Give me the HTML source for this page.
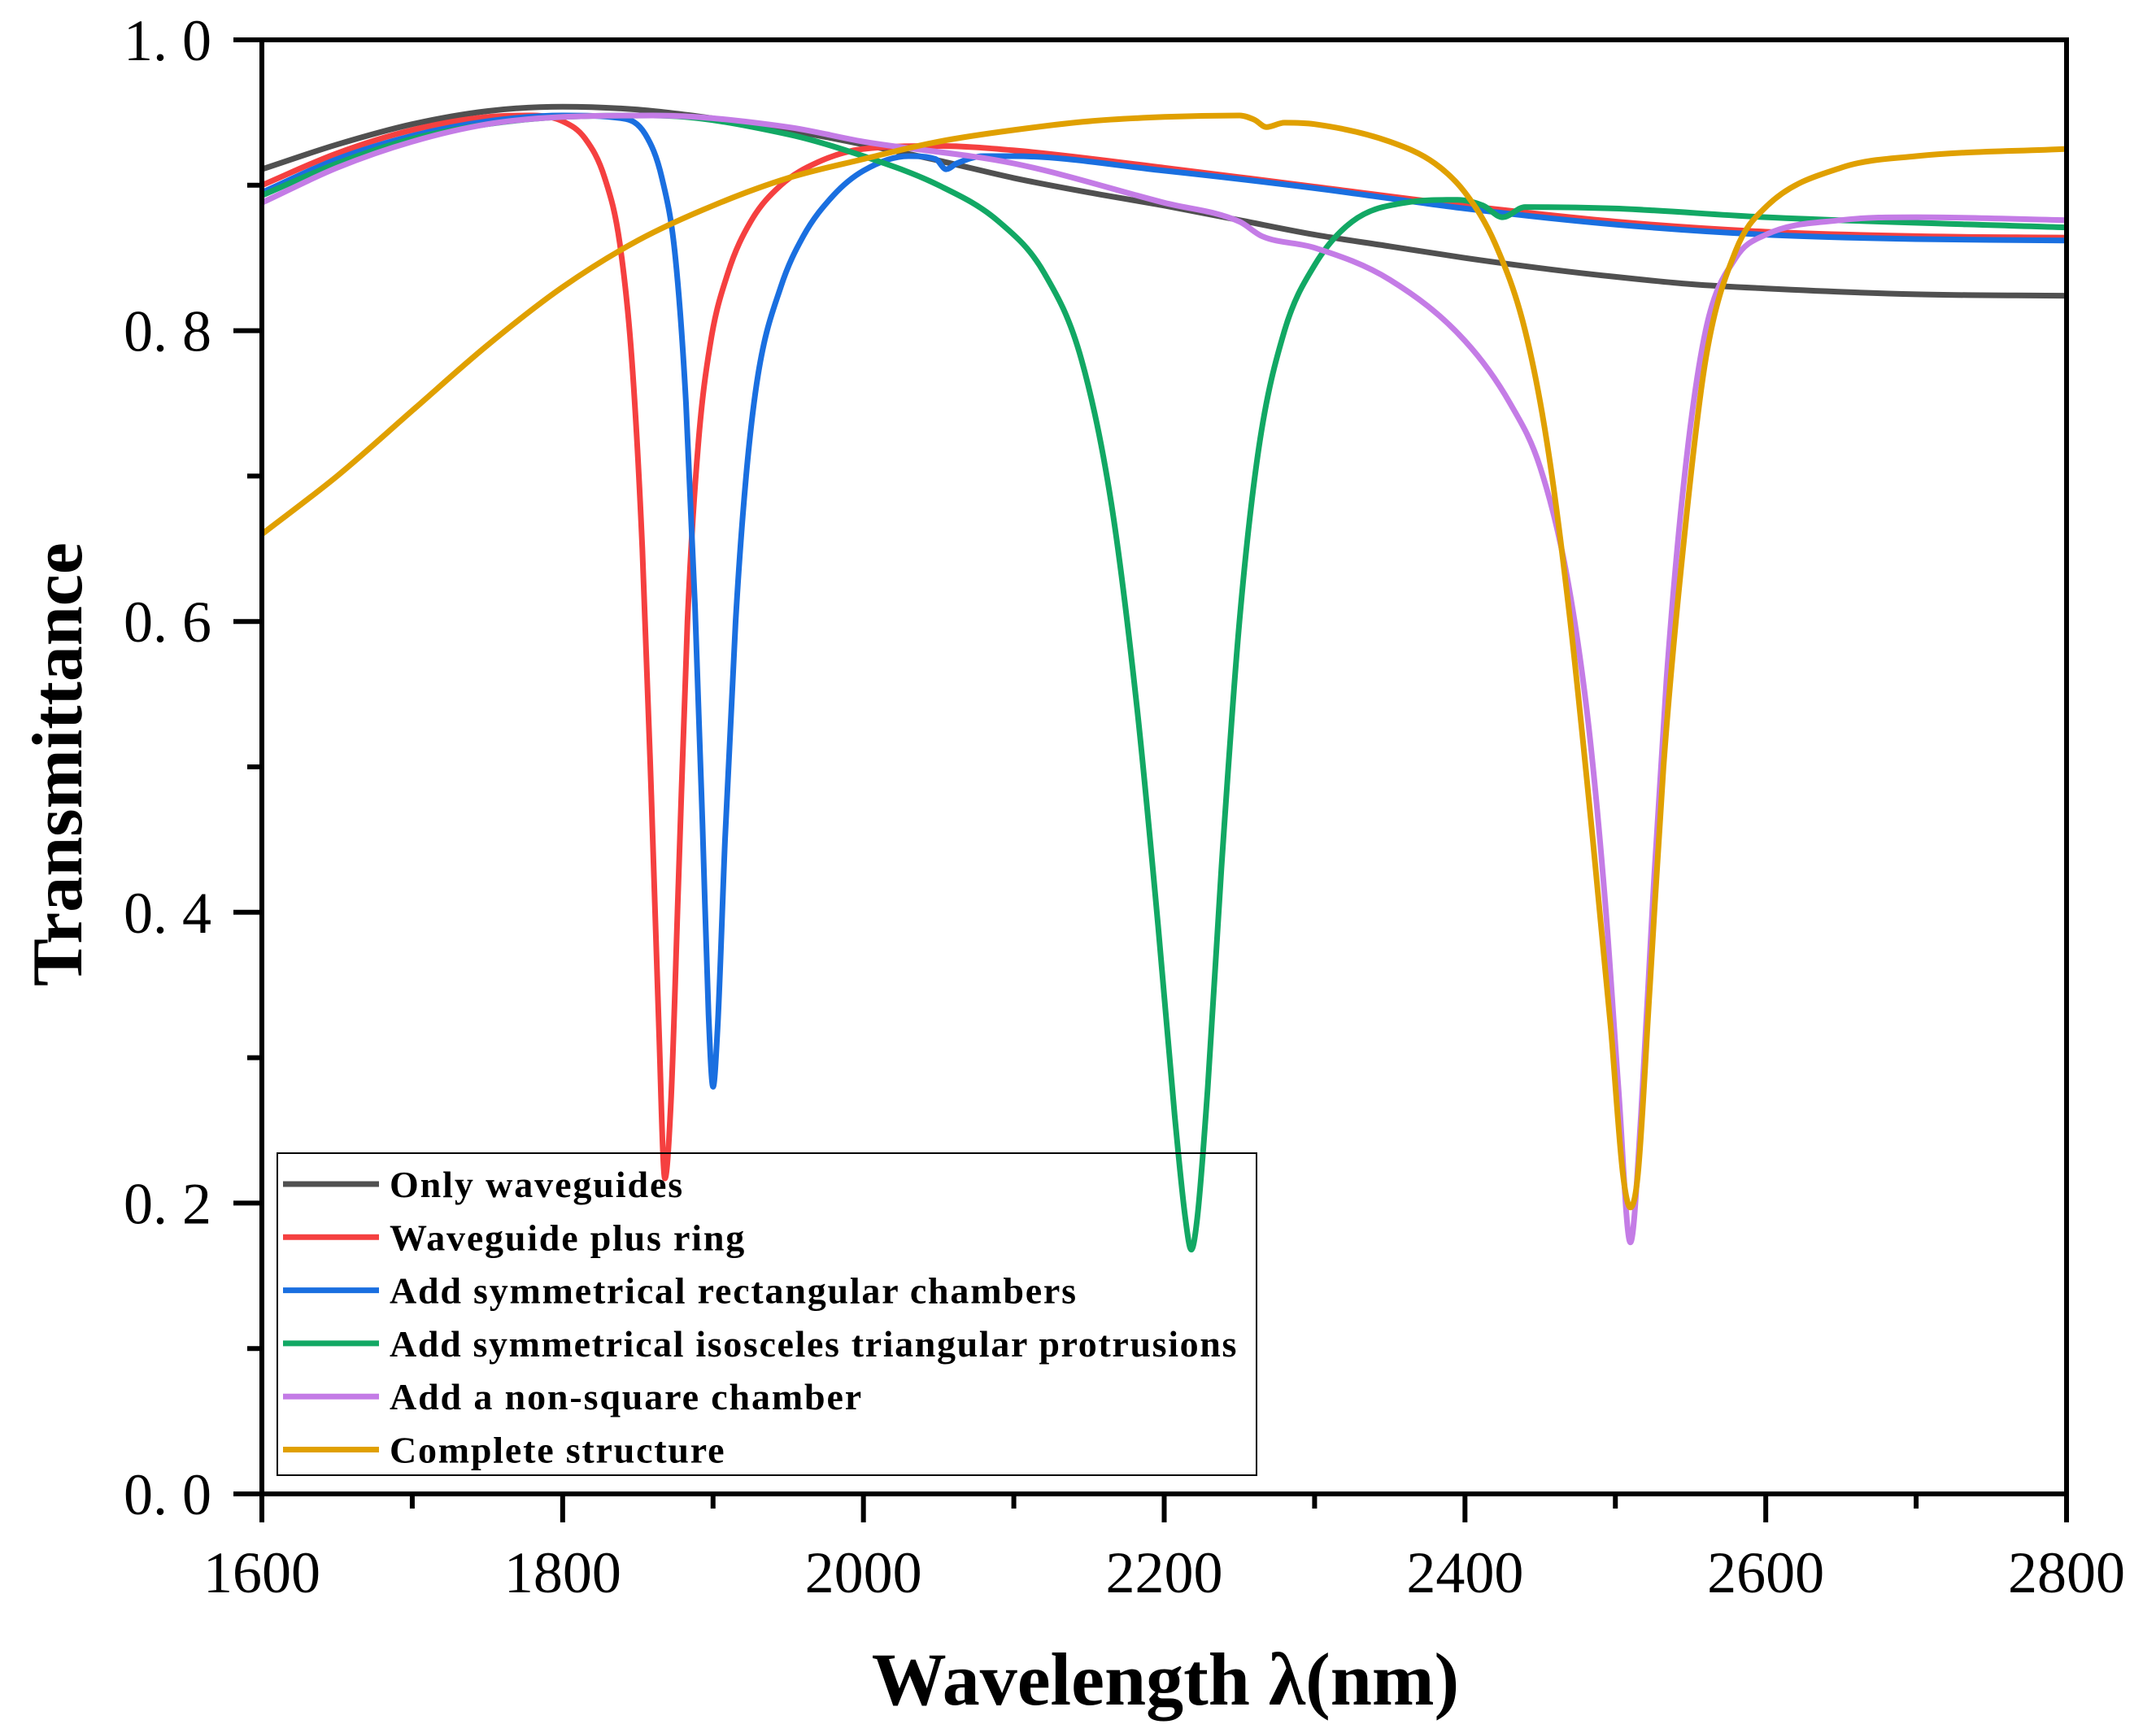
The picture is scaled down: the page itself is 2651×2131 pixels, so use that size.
<!DOCTYPE html>
<html><head><meta charset="utf-8"><style>
body{margin:0;background:#fff}
svg{display:block}
text{font-family:"Liberation Serif",serif;fill:#000}
</style></head><body>
<svg id="chart" width="2651" height="2131" viewBox="0 0 2651 2131" xmlns="http://www.w3.org/2000/svg">
<g id="marks"></g>
<g id="axes"></g>
<g id="legend"></g>
<text transform="translate(100,940) rotate(-90)" text-anchor="middle" font-size="88" font-weight="bold">Transmittance</text>
<text x="1433" y="2096" text-anchor="middle" font-size="92" font-weight="bold">Wavelength λ(nm)</text>
</svg>
<script>
const xTicks=[1600,1800,2000,2200,2400,2600,2800];
const yTicks=[0,0.2,0.4,0.6,0.8,1.0];
const yTickLabels=["0. 0","0. 2","0. 4","0. 6","0. 8","1. 0"];
const seriesNames=["Only waveguides","Waveguide plus ring","Add symmetrical rectangular chambers","Add symmetrical isosceles triangular protrusions","Add a non-square chamber","Complete structure"];
const seriesColors=["#505050","#f54040","#1a6fe0","#12a864","#c47ce6","#e0a000"];
const grayWl=[1600,1650,1700,1750,1800,1850,1900,1950,2000,2050,2100,2150,2200,2250,2300,2350,2400,2450,2500,2550,2600,2700,2800];
const grayT=[.911,.928,.942,.951,.954,.952,.946,.938,.928,.917,.905,.895,.886,.876,.866,.858,.850,.843,.837,.832,.829,.825,.824];
const redWl=[1600,1650,1700,1750,1780,1800,1815,1828,1838,1846,1853,1859,1864,1868,1872,1877,1883,1890,1898,1910,1925,1945,1970,2000,2050,2100,2200,2300,2400,2500,2600,2700,2800];
const redT=[.900,.922,.938,.947,.948,.944,.932,.905,.86,.78,.65,.48,.32,.217,.27,.42,.6,.72,.79,.84,.875,.9,.916,.925,.927,.924,.912,.899,.886,.875,.868,.865,.864];
const blueWl=[1600,1650,1700,1750,1800,1840,1855,1866,1875,1882,1888,1893,1897,1900,1903,1908,1915,1922,1930,1945,1960,1980,2000,2030,2048,2055,2062,2080,2100,2200,2300,2400,2500,2600,2700,2800];
const blueT=[.895,.918,.934,.944,.948,.946,.935,.905,.85,.75,.61,.46,.33,.28,.32,.45,.6,.7,.77,.83,.865,.893,.91,.92,.918,.911,.915,.92,.92,.91,.898,.884,.873,.866,.863,.862];
const greenWl=[1600,1650,1700,1750,1800,1860,1950,2000,2050,2090,2120,2145,2165,2182,2196,2207,2214,2218,2222,2229,2238,2250,2263,2280,2300,2325,2360,2395,2412,2425,2440,2500,2600,2800];
const greenT=[.893,.915,.932,.942,.947,.948,.935,.92,.9,.875,.84,.78,.68,.54,.39,.26,.19,.168,.19,.28,.43,.6,.72,.8,.845,.875,.888,.89,.886,.878,.885,.884,.878,.871];
const purpleWl=[1600,1650,1700,1750,1800,1860,1950,2000,2100,2200,2250,2265,2300,2350,2400,2430,2450,2468,2482,2493,2502,2510,2517,2525,2534,2546,2560,2580,2600,2650,2700,2800];
const purpleT=[.888,.912,.93,.942,.947,.948,.94,.93,.915,.888,.875,.865,.857,.835,.793,.75,.706,.63,.53,.41,.28,.173,.26,.41,.56,.70,.80,.85,.866,.876,.878,.876];
const orangeWl=[1600,1650,1700,1750,1800,1850,1900,1950,2000,2050,2100,2150,2200,2250,2260,2268,2280,2300,2350,2380,2400,2420,2440,2455,2470,2485,2497,2505,2510,2515,2523,2532,2545,2560,2580,2600,2650,2700,2800];
const orangeT=[.66,.70,.745,.79,.83,.862,.886,.905,.918,.93,.938,.944,.947,.948,.945,.94,.943,.942,.93,.915,.895,.86,.80,.72,.6,.45,.32,.22,.197,.22,.35,.5,.65,.78,.855,.885,.912,.92,.925];
const allWl=[grayWl,redWl,blueWl,greenWl,purpleWl,orangeWl];
const allT=[grayT,redT,blueT,greenT,purpleT,orangeT];

const L=322,R=2541,T=49,B=1837;
const xS=v=>L+(v-1600)/(2800-1600)*(R-L);
const yS=v=>B-(v-0)/(1-0)*(B-T);
const NS="http://www.w3.org/2000/svg";
function mk(tag,attrs,parent){const e=document.createElementNS(NS,tag);for(const k in attrs)e.setAttribute(k,attrs[k]);parent.appendChild(e);return e;}

function monoPath(xs,ys){
  const n=xs.length;const d=[],m=[];
  for(let i=0;i<n-1;i++)d.push((ys[i+1]-ys[i])/(xs[i+1]-xs[i]));
  m[0]=d[0];m[n-1]=d[n-2];
  for(let i=1;i<n-1;i++){m[i]=(d[i-1]*d[i]<=0)?0:(d[i-1]+d[i])/2;}
  for(let i=0;i<n-1;i++){if(d[i]===0){m[i]=0;m[i+1]=0;continue;}const a=m[i]/d[i],b=m[i+1]/d[i],s=a*a+b*b;if(s>9){const t=3/Math.sqrt(s);m[i]=t*a*d[i];m[i+1]=t*b*d[i];}}
  let p="M"+xs[0].toFixed(1)+","+ys[0].toFixed(1);
  for(let i=0;i<n-1;i++){const h=(xs[i+1]-xs[i])/3;
    p+=" C"+(xs[i]+h).toFixed(1)+","+(ys[i]+m[i]*h).toFixed(1)+" "+(xs[i+1]-h).toFixed(1)+","+(ys[i+1]-m[i+1]*h).toFixed(1)+" "+xs[i+1].toFixed(1)+","+ys[i+1].toFixed(1);}
  return p;
}
const marks=document.getElementById('marks');
const slugs=["only-waveguides","waveguide-plus-ring","rectangular-chambers","triangular-protrusions","non-square-chamber","complete-structure"];
for(let s=0;s<6;s++){
  const path=mk('path',{d:monoPath(allWl[s].map(xS),allT[s].map(yS)),fill:"none",stroke:seriesColors[s],"stroke-width":7,"stroke-linejoin":"round"},marks);
  
  
}
const axes=document.getElementById('axes');
const frame=mk('rect',{x:L,y:T,width:R-L,height:B-T,fill:"none",stroke:"#000","stroke-width":6},axes);


for(let v=1600;v<=2800;v+=100){
  const major=(v%200===0);
  const t=mk('line',{x1:xS(v),x2:xS(v),y1:B,y2:B+(major?35:18),stroke:"#000","stroke-width":6},axes);
  
  
}
xTicks.forEach(v=>{
  const t=mk('text',{x:xS(v),y:1958,"text-anchor":"middle","font-size":72},axes);t.textContent=v;
  
  
});
for(let i=0;i<=10;i++){
  const v=i/10;const major=(i%2===0);
  const t=mk('line',{x1:L-(major?35:18),x2:L,y1:yS(v),y2:yS(v),stroke:"#000","stroke-width":6},axes);
  
  
}
yTicks.forEach((v,i)=>{
  const t=mk('text',{x:260,y:yS(v)+25,"text-anchor":"end","font-size":72},axes);t.textContent=yTickLabels[i];
  
  
});
const lg=document.getElementById('legend');
const box=mk('rect',{x:341,y:1418,width:1204,height:396,fill:"none",stroke:"#000","stroke-width":2},lg);


for(let s=0;s<6;s++){
  const y=1456+s*65.3;
  const ln=mk('line',{x1:348,x2:466,y1:y,y2:y,stroke:seriesColors[s],"stroke-width":7},lg);
  
  
  const tx=mk('text',{x:479,y:y+16,"font-size":46,"font-weight":"bold","textLength":0},lg);tx.textContent=seriesNames[s];
  tx.removeAttribute('textLength');
  
  
  const w=tx.getComputedTextLength();
  tx.setAttribute('textLength',(w*1.08).toFixed(1));
}
</script>
</body></html>
